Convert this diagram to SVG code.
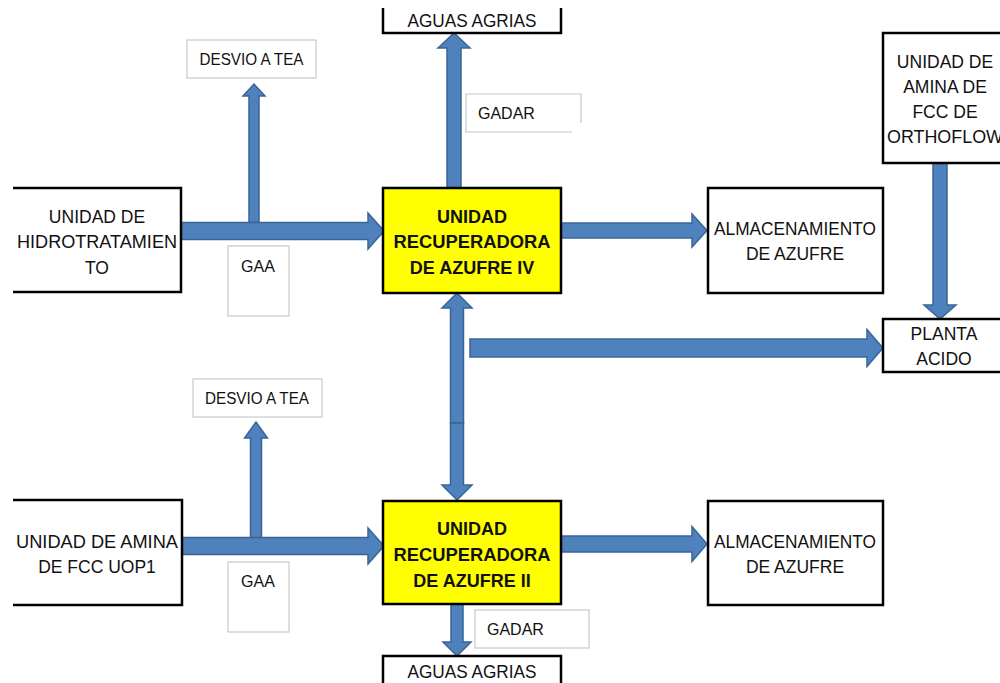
<svg xmlns="http://www.w3.org/2000/svg" width="1000" height="683" viewBox="0 0 1000 683">
<style>
.box{fill:#fff;stroke:#000;stroke-width:2.5}
.ura{fill:#ffff00;stroke:#000;stroke-width:2.5}
.lbl{fill:#fff;stroke:#c8c8c8;stroke-width:1.2}
.open{fill:none;stroke:#000;stroke-width:2.5}
.olbl{fill:none;stroke:#c8c8c8;stroke-width:1.2}
.t{font-family:"Liberation Sans",Arial,sans-serif;font-size:17.5px;fill:#111;text-anchor:middle}
.b{font-family:"Liberation Sans",Arial,sans-serif;font-size:18px;font-weight:bold;fill:#111;text-anchor:middle}
.s{font-family:"Liberation Sans",Arial,sans-serif;font-size:16px;fill:#111}
.arr{fill:#4f81bd;stroke:#3a6496;stroke-width:1.5;stroke-linejoin:miter}
</style>
<rect width="1000" height="683" fill="#fff"/>
<g id="connectors">
<polygon class="arr" points="249,222.5 249,96 243,96 254,84 265,96 259,96 259,222.5"/>
<polygon class="arr" points="181,222.5 368,222.5 368,213 384,231 368,249 368,239.5 181,239.5"/>
<polygon class="arr" points="447,188 447,48 438,48 454,33 470,48 461,48 461,188"/>
<polygon class="arr" points="561,223 692,223 692,214 707,230.5 692,247 692,238 561,238"/>
<polygon class="arr" points="933,163 933,305 924,305 940,319 956,305 947,305 947,163"/>
<polygon class="arr" points="450.5,423 450.5,308 442,308 457,293 472,308 463.5,308 463.5,423"/>
<polygon class="arr" points="450.5,423 450.5,485 442,485 457,500 472,485 463.5,485 463.5,423"/>
<polygon class="arr" points="470,339 867,339 867,329.5 883,348 867,366.5 867,357 470,357"/>
<polygon class="arr" points="250.5,538 250.5,438 244.5,438 256,422 267.5,438 261.5,438 261.5,538"/>
<polygon class="arr" points="182,537.5 368,537.5 368,528 384,546 368,564 368,554.5 182,554.5"/>
<polygon class="arr" points="561,536 692,536 692,526.5 707,544 692,561.5 692,552 561,552"/>
<polygon class="arr" points="451,604 451,642 443,642 457,656 471,642 463,642 463,604"/>
</g>
<g id="hidrotratamiento">
<path class="open" d="M13,188 H181 V292 H13"/>
<text class="t" x="97" y="223">UNIDAD DE</text>
<text class="t" x="97" y="248" textLength="160" lengthAdjust="spacingAndGlyphs">HIDROTRATAMIEN</text>
<text class="t" x="97" y="274">TO</text>
</g>
<g id="desvio1">
<rect class="lbl" x="187" y="40" width="129" height="38"/>
<text class="s" x="251.5" y="65" text-anchor="middle" textLength="104" lengthAdjust="spacingAndGlyphs">DESVIO A TEA</text>
</g>
<g id="gaa1">
<rect class="lbl" x="228" y="246" width="61" height="70"/>
<text class="s" x="258" y="272" text-anchor="middle">GAA</text>
</g>
<g id="aguas1">
<path class="open" d="M383,8 V33 H561 V8"/>
<text class="t" x="472" y="27" textLength="129" lengthAdjust="spacingAndGlyphs">AGUAS AGRIAS</text>
</g>
<g id="gadar1">
<path class="olbl" d="M572,132 H466 V94 H581 V123"/>
<text class="s" x="478" y="119">GADAR</text>
</g>
<g id="ura4">
<rect class="ura" x="383" y="188" width="178" height="105"/>
<text class="b" x="472" y="223">UNIDAD</text>
<text class="b" x="472" y="248" textLength="157" lengthAdjust="spacingAndGlyphs">RECUPERADORA</text>
<text class="b" x="472" y="274">DE AZUFRE IV</text>
</g>
<g id="almacen1">
<rect class="box" x="708" y="188" width="175" height="105"/>
<text class="t" x="795" y="235" textLength="162" lengthAdjust="spacingAndGlyphs">ALMACENAMIENTO</text>
<text class="t" x="795" y="260">DE AZUFRE</text>
</g>
<g id="orthoflow">
<rect class="box" x="883" y="33" width="130" height="130"/>
<text class="t" x="945" y="68">UNIDAD DE</text>
<text class="t" x="945" y="93">AMINA DE</text>
<text class="t" x="945" y="118">FCC DE</text>
<text class="t" x="945" y="143" textLength="116" lengthAdjust="spacingAndGlyphs">ORTHOFLOW</text>
</g>
<g id="planta">
<rect class="box" x="883" y="319" width="130" height="53"/>
<text class="t" x="944" y="340">PLANTA</text>
<text class="t" x="944" y="365">ACIDO</text>
</g>
<g id="desvio2">
<rect class="lbl" x="193" y="379" width="129" height="38"/>
<text class="s" x="257" y="404" text-anchor="middle" textLength="104" lengthAdjust="spacingAndGlyphs">DESVIO A TEA</text>
</g>
<g id="amina-uop1">
<path class="open" d="M13,500 H182 V605 H13"/>
<text class="t" x="97" y="548" textLength="162" lengthAdjust="spacingAndGlyphs">UNIDAD DE AMINA</text>
<text class="t" x="97" y="573">DE FCC UOP1</text>
</g>
<g id="gaa2">
<rect class="lbl" x="228" y="562" width="61" height="70"/>
<text class="s" x="258" y="587" text-anchor="middle">GAA</text>
</g>
<g id="ura2">
<rect class="ura" x="383" y="501" width="178" height="103"/>
<text class="b" x="472" y="535">UNIDAD</text>
<text class="b" x="472" y="561" textLength="157" lengthAdjust="spacingAndGlyphs">RECUPERADORA</text>
<text class="b" x="472" y="587">DE AZUFRE II</text>
</g>
<g id="almacen2">
<rect class="box" x="708" y="501" width="175" height="104"/>
<text class="t" x="795" y="548" textLength="162" lengthAdjust="spacingAndGlyphs">ALMACENAMIENTO</text>
<text class="t" x="795" y="573">DE AZUFRE</text>
</g>
<g id="gadar2">
<rect class="lbl" x="475" y="610" width="114" height="38"/>
<text class="s" x="487" y="635">GADAR</text>
</g>
<g id="aguas2">
<path class="open" d="M383,690 V656 H561 V690"/>
<text class="t" x="472" y="678" textLength="129" lengthAdjust="spacingAndGlyphs">AGUAS AGRIAS</text>
</g>
</svg>
